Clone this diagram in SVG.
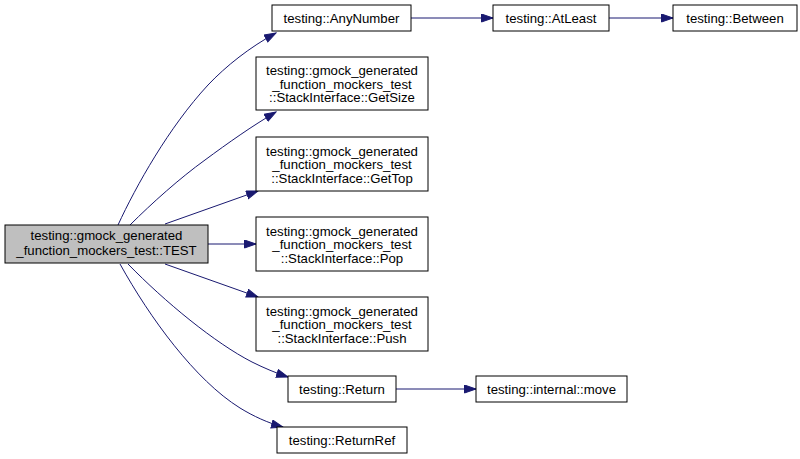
<svg xmlns="http://www.w3.org/2000/svg" width="800" height="459" viewBox="0 0 800 459">
<defs>
<style>
.n rect{fill:#ffffff;stroke:#000000;stroke-width:1}
.n text{font-family:"Liberation Sans",Arial,sans-serif;font-size:13.2px;fill:#000000;text-anchor:middle}
#n0 rect{fill:#bfbfbf;stroke:#000000}
.e path{fill:none;stroke:#191970;stroke-width:1;marker-end:url(#arr)}
</style>
<marker id="arr" markerUnits="userSpaceOnUse" markerWidth="13" markerHeight="10" refX="12" refY="4.5" orient="auto">
<path d="M0.5,0.5 L12,4.5 L0.5,8.5 Z" fill="#191970" stroke="#191970" stroke-width="1"/>
</marker>
</defs>
<rect width="800" height="459" fill="#ffffff"/>
<g id="edges" class="e">
<path d="M118,225 C136,186 169,127 208,85 C226,66 250,47 276,33"/>
<path d="M130,225 C152,203 180,178 205,160 C228,143 252,126 276,112"/>
<path d="M165,224 L258,191"/>
<path d="M208,244 L256,244"/>
<path d="M165,264 L258,297"/>
<path d="M128,264 C165,302 215,343 252,362 C264,368 276,373 288,377"/>
<path d="M120,264 C150,318 195,380 240,408 C253,416 268,423 283,427"/>
<path d="M411,18 L493,18"/>
<path d="M609,18 L673,18"/>
<path d="M396,389 L476,389"/>
</g>
<g id="n0" class="n">
<rect x="5" y="225" width="203" height="38"/>
<text x="106.5" y="240">testing::gmock_generated</text>
<text x="106.5" y="255">_function_mockers_test::TEST</text>
</g>
<g id="n1" class="n">
<rect x="272" y="5" width="139" height="26"/>
<text x="341.5" y="22.5">testing::AnyNumber</text>
</g>
<g id="n2" class="n">
<rect x="493" y="5" width="116" height="26"/>
<text x="551" y="22.5">testing::AtLeast</text>
</g>
<g id="n3" class="n">
<rect x="673" y="5" width="124" height="26"/>
<text x="735" y="22.5">testing::Between</text>
</g>
<g id="n4" class="n">
<rect x="256" y="57" width="172" height="53"/>
<text x="342" y="75">testing::gmock_generated</text>
<text x="342" y="88.5">_function_mockers_test</text>
<text x="342" y="102">::StackInterface::GetSize</text>
</g>
<g id="n5" class="n">
<rect x="256" y="137" width="172" height="54"/>
<text x="342" y="155.5">testing::gmock_generated</text>
<text x="342" y="169">_function_mockers_test</text>
<text x="342" y="182.5">::StackInterface::GetTop</text>
</g>
<g id="n6" class="n">
<rect x="256" y="217" width="172" height="54"/>
<text x="342" y="235.5">testing::gmock_generated</text>
<text x="342" y="249">_function_mockers_test</text>
<text x="342" y="262.5">::StackInterface::Pop</text>
</g>
<g id="n7" class="n">
<rect x="256" y="297" width="172" height="54"/>
<text x="342" y="315.5">testing::gmock_generated</text>
<text x="342" y="329">_function_mockers_test</text>
<text x="342" y="342.5">::StackInterface::Push</text>
</g>
<g id="n8" class="n">
<rect x="288" y="376" width="108" height="26"/>
<text x="342" y="393.5">testing::Return</text>
</g>
<g id="n9" class="n">
<rect x="476" y="376" width="151" height="26"/>
<text x="551.5" y="393.5">testing::internal::move</text>
</g>
<g id="n10" class="n">
<rect x="277" y="427" width="130" height="26"/>
<text x="342" y="444.5">testing::ReturnRef</text>
</g>
</svg>
